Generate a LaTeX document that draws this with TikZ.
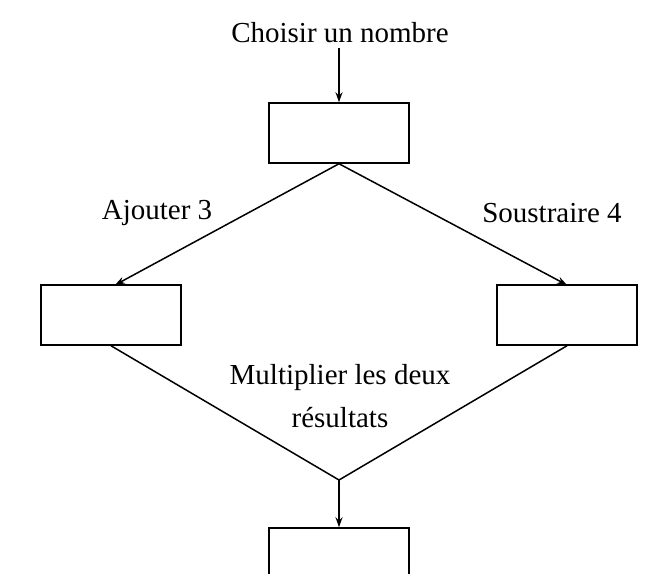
\documentclass[tikz,border=0pt]{standalone}
\usepackage{fontspec}
\setmainfont{Liberation Serif}
\usetikzlibrary{arrows.meta}
\begin{document}
\begin{tikzpicture}[x=1pt,y=-1pt,
  box/.style={draw,line width=1.5pt,minimum width=140pt,minimum height=60pt,inner sep=0pt},
  lbl/.style={font=\fontsize{29}{33}\selectfont,inner sep=0pt},
  ln/.style={line width=1.5pt},
  arr/.style={ln,-{Stealth[length=10pt,width=7pt]}}]
\useasboundingbox (0,0) rectangle (645,573);
\clip (0,0) rectangle (645,573);
\node[lbl] (t) at (340,33) {Choisir un nombre};
\node[box] (b1) at (339,133) {};
\node[box] (b2) at (111,315) {};
\node[box] (b3) at (567,315) {};
\node[box] (b4) at (339,558) {};
\coordinate (m) at (339,480);
\coordinate (s) at (339,48);
\node[lbl] (l1) at (157,213) {Ajouter 3};
\node[lbl] (l2) at (552,213) {Soustraire 4};
\node[lbl] (l3) at (340,378) {Multiplier les deux};
\node[lbl] (l4) at (340,418) {résultats};
\draw[arr] (s) -- (b1.north);
\draw[arr] (b1.south) -- (115,285);
\draw[arr] (b1.south) -- (567,285);
\draw[ln] (b2.south) -- (m) -- (b3.south);
\draw[arr] (m) -- (b4.north);
\end{tikzpicture}
\end{document}
